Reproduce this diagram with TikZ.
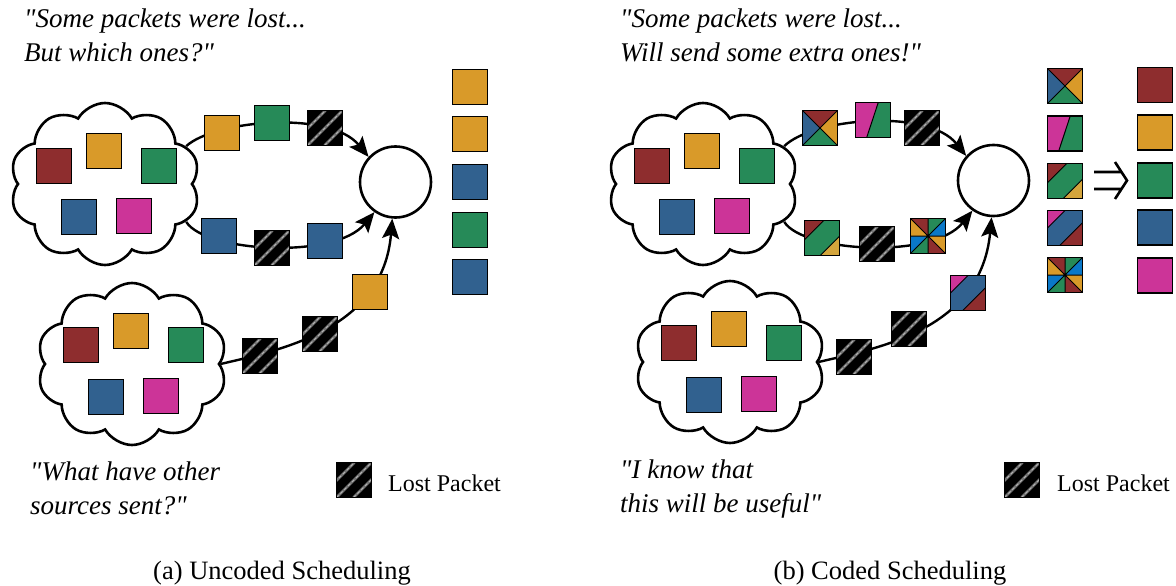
\documentclass[tikz,border=0pt]{standalone}
\usepackage{fontspec}
\setmainfont{Liberation Serif}[Ligatures=TeXOff]
\usetikzlibrary{shapes.symbols,arrows.meta,calc}
\definecolor{cR}{RGB}{142,45,46}
\definecolor{cO}{RGB}{217,154,41}
\definecolor{cG}{RGB}{38,138,88}
\definecolor{cB}{RGB}{49,97,143}
\definecolor{cP}{RGB}{204,52,152}
\definecolor{cY}{RGB}{212,165,60}
\definecolor{cBB}{RGB}{10,120,200}
\tikzset{
  sq/.style={rectangle, draw=black, line width=1.1pt, minimum size=35pt, inner sep=0pt, outer sep=0pt},
  sqb/.style={draw=black, line width=1.1pt},
  pl/.style={draw=black, line width=1pt},
  lost/.style={sq, fill=black},
  conn/.style={line width=2.4pt},
  arr/.style={conn, -{Stealth[length=20pt,width=17pt,inset=4pt]}},
  cl/.style={cloud, cloud puffs=10, cloud puff arc=120, aspect=1.17, draw, line width=2.6pt,
     minimum width=190pt, minimum height=162pt, inner sep=0pt, fill=white},
  rx/.style={circle, draw, line width=2.6pt, minimum size=71pt, inner sep=0pt},
  quote/.style={font=\fontsize{27}{34}\selectfont\itshape, anchor=base west, inner sep=0pt},
  legend/.style={font=\fontsize{24}{28}\selectfont, anchor=base west, inner sep=0pt},
  capt/.style={font=\fontsize{26.5}{30}\selectfont, anchor=base, inner sep=0pt}
}
\newcommand\patX[1]{%
  \fill[cR] (#1.north west) -- (#1.north east) -- (#1.center) -- cycle;
  \fill[cO] (#1.north east) -- (#1.south east) -- (#1.center) -- cycle;
  \fill[cG] (#1.south east) -- (#1.south west) -- (#1.center) -- cycle;
  \fill[cB] (#1.south west) -- (#1.north west) -- (#1.center) -- cycle;
  \draw[pl] (#1.north west) -- (#1.south east) (#1.north east) -- (#1.south west);
  \draw[sqb] (#1.north west) rectangle (#1.south east);}
\newcommand\patPG[1]{%
  \fill[cG] (#1.north west) rectangle (#1.south east);
  \fill[cP] (#1.north west) -- ($(#1.north west)!0.65!(#1.north east)$) -- ($(#1.south west)!0.32!(#1.south east)$) -- (#1.south west) -- cycle;
  \draw[pl] ($(#1.north west)!0.65!(#1.north east)$) -- ($(#1.south west)!0.32!(#1.south east)$);
  \draw[sqb] (#1.north west) rectangle (#1.south east);}
% node, top-left colour, band colour, bottom-right colour, tl fraction, br fraction
\newcommand\patD[6]{%
  \fill[#3] (#1.north west) rectangle (#1.south east);
  \fill[#2] (#1.north west) -- ($(#1.north west)!#5!(#1.north east)$) -- ($(#1.north west)!#5!(#1.south west)$) -- cycle;
  \fill[#4] (#1.south east) -- ($(#1.south east)!#6!(#1.north east)$) -- ($(#1.south east)!#6!(#1.south west)$) -- cycle;
  \draw[pl] ($(#1.north west)!#5!(#1.north east)$) -- ($(#1.north west)!#5!(#1.south west)$);
  \draw[pl] ($(#1.south east)!#6!(#1.north east)$) -- ($(#1.south east)!#6!(#1.south west)$);
  \draw[sqb] (#1.north west) rectangle (#1.south east);}
\newcommand\patS[1]{%
  \fill[cR] (#1.north west) -- (#1.north) -- (#1.center) -- cycle;
  \fill[cG] (#1.north) -- (#1.north east) -- (#1.center) -- cycle;
  \fill[cBB] (#1.north east) -- (#1.east) -- (#1.center) -- cycle;
  \fill[cO] (#1.east) -- (#1.south east) -- (#1.center) -- cycle;
  \fill[cR] (#1.south east) -- (#1.south) -- (#1.center) -- cycle;
  \fill[cG] (#1.south) -- (#1.south west) -- (#1.center) -- cycle;
  \fill[cBB] (#1.south west) -- (#1.west) -- (#1.center) -- cycle;
  \fill[cO] (#1.west) -- (#1.north west) -- (#1.center) -- cycle;
  \draw[pl] (#1.north west) -- (#1.south east) (#1.north east) -- (#1.south west)
            (#1.north) -- (#1.south) (#1.west) -- (#1.east);
  \draw[sqb] (#1.north west) rectangle (#1.south east);}
\newcommand\patL[1]{%
  \begin{scope}
  \clip (#1.south west) rectangle (#1.north east);
  \foreach \d in {-17,0,17} {
    \draw[black!55, line width=2.6pt] ($(#1.south west)+(\d,0)$) -- ($(#1.north west)+(\d+35,0)$);
    \draw[black!30, line width=0.8pt, dash pattern=on 3pt off 2.5pt] ($(#1.south west)+(\d,0)$) -- ($(#1.north west)+(\d+35,0)$);
  }
  \end{scope}
  \draw[sqb] (#1.south west) rectangle (#1.north east);}
\begin{document}
\begin{tikzpicture}[x=1pt,y=-1pt]
\useasboundingbox (0,0) rectangle (1176,586);
% ================= (a) =================
\node[cl] (ca1) at (105,184) {};
\node[cl] (ca2) at (132,364) {};
\node[rx] (ra) at (395.5,182) {};
\draw[arr] (ca1.25) .. controls (215,120) and (330,110) .. (ra.137);
\draw[arr] (ca1.335) .. controls (205,252) and (335,260) .. (ra.235);
\draw[arr] (ca2.east) .. controls (280,350) and (383,330) .. (ra.265);
% cloud contents
\node[sq, fill=cR] (a1r) at (54,166) {};
\node[sq, fill=cO] (a1o) at (104,151) {};
\node[sq, fill=cG] (a1g) at (159,166) {};
\node[sq, fill=cB] (a1b) at (79,217) {};
\node[sq, fill=cP] (a1p) at (134,216) {};
\node[sq, fill=cR] (a2r) at (81,345) {};
\node[sq, fill=cO] (a2o) at (131,331) {};
\node[sq, fill=cG] (a2g) at (186,345) {};
\node[sq, fill=cB] (a2b) at (106,397) {};
\node[sq, fill=cP] (a2p) at (161,396) {};
% packets on paths
\node[sq, fill=cO] (at1) at (222,133) {};
\node[sq, fill=cG] (at2) at (272,123) {};
\node[lost] (at3) at (325,128) {}; \patL{at3}
\node[sq, fill=cB] (ab1) at (219,236) {};
\node[lost] (ab2) at (272,248) {}; \patL{ab2}
\node[sq, fill=cB] (ab3) at (325,241) {};
\node[lost] (ac1) at (260,356) {}; \patL{ac1}
\node[lost] (ac2) at (320,334) {}; \patL{ac2}
\node[sq, fill=cO] (ac3) at (370,292) {};
% received
\node[sq, fill=cO] (aq1) at (470,87) {};
\node[sq, fill=cO] (aq2) at (470,134) {};
\node[sq, fill=cB] (aq3) at (470,182) {};
\node[sq, fill=cG] (aq4) at (470,230) {};
\node[sq, fill=cB] (aq5) at (470,277) {};
% texts
\node[quote] (ta1) at (24,28) {"Some packets were lost...};
\node[quote] (ta2) at (24,62) {But which ones?"};
\node[quote] (ta3) at (30,480) {"What have other};
\node[quote] (ta4) at (30,514) {sources sent?"};
\node[lost] (la) at (354,480) {}; \patL{la}
\node[legend] (lta) at (388,491) {Lost Packet};
\node[capt] (capa) at (282,579) {(a) Uncoded Scheduling};
% ================= (b) =================
\node[cl] (cb1) at (703,184) {};
\node[cl] (cb2) at (730,362) {};
\node[rx] (rb) at (993.5,180.5) {};
\draw[arr] (cb1.25) .. controls (813,118) and (928,108) .. (rb.138);
\draw[arr] (cb1.335) .. controls (803,252) and (933,260) .. (rb.235);
\draw[arr] (cb2.east) .. controls (878,348) and (981,330) .. (rb.267);
\node[sq, fill=cR] (b1r) at (652,166) {};
\node[sq, fill=cO] (b1o) at (702,151) {};
\node[sq, fill=cG] (b1g) at (757,166) {};
\node[sq, fill=cB] (b1b) at (677,217) {};
\node[sq, fill=cP] (b1p) at (732,216) {};
\node[sq, fill=cR] (b2r) at (679,343) {};
\node[sq, fill=cO] (b2o) at (729,329) {};
\node[sq, fill=cG] (b2g) at (784,343) {};
\node[sq, fill=cB] (b2b) at (704,395) {};
\node[sq, fill=cP] (b2p) at (759,394) {};
\node[sq] (bt1) at (820,128) {}; \patX{bt1}
\node[sq] (bt2) at (873,120) {}; \patPG{bt2}
\node[lost] (bt3) at (922,128) {}; \patL{bt3}
\node[sq] (bb1) at (822,238) {}; \patD{bb1}{cR}{cG}{cY}{0.55}{0.55}
\node[lost] (bb2) at (877,244) {}; \patL{bb2}
\node[sq] (bb3) at (928,236) {}; \patS{bb3}
\node[lost] (bc1) at (854,357) {}; \patL{bc1}
\node[lost] (bc2) at (909,329) {}; \patL{bc2}
\node[sq] (bc3) at (968,293) {}; \patD{bc3}{cP}{cB}{cR}{0.5}{0.65}
% received coded
\node[sq] (bq1) at (1065,86) {}; \patX{bq1}
\node[sq] (bq2) at (1065,133.5) {}; \patPG{bq2}
\node[sq] (bq3) at (1065,181) {}; \patD{bq3}{cR}{cG}{cY}{0.55}{0.55}
\node[sq] (bq4) at (1065,228) {}; \patD{bq4}{cP}{cB}{cR}{0.5}{0.65}
\node[sq] (bq5) at (1065,275) {}; \patS{bq5}
% implies arrow
\draw[line width=2.6pt, line join=miter] (1094,172) -- (1121,172) (1094,189) -- (1121,189)
     (1115,162) -- (1127,180.5) -- (1115,199);
% decoded
\node[sq, fill=cR] (bd1) at (1155,85) {};
\node[sq, fill=cO] (bd2) at (1155,132.5) {};
\node[sq, fill=cG] (bd3) at (1155,180.5) {};
\node[sq, fill=cB] (bd4) at (1155,227.5) {};
\node[sq, fill=cP] (bd5) at (1155,275.5) {};
% texts
\node[quote] (tb1) at (620,28) {"Some packets were lost...};
\node[quote] (tb2) at (620,62) {Will send some extra ones!"};
\node[quote] (tb3) at (620,478) {"I know that};
\node[quote] (tb4) at (620,512) {this will be useful"};
\node[lost] (lb) at (1022,480) {}; \patL{lb}
\node[legend] (ltb) at (1057,491) {Lost Packet};
\node[capt] (capb) at (890,579) {(b) Coded Scheduling};
\end{tikzpicture}
\end{document}
